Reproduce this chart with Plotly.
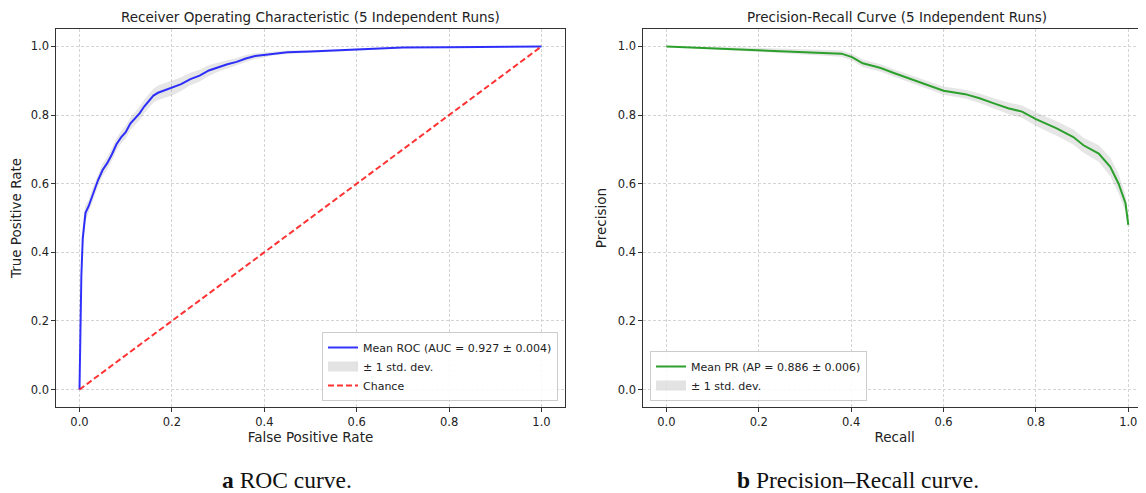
import plotly.graph_objects as go

# ---------------- data ----------------
roc_fpr = [0.0, 0.002, 0.004, 0.007, 0.010, 0.013, 0.02, 0.03, 0.04, 0.05, 0.06, 0.07, 0.08,
           0.09, 0.10, 0.11, 0.12, 0.13, 0.14, 0.15, 0.16, 0.17, 0.18, 0.20, 0.22, 0.24, 0.26,
           0.28, 0.30, 0.32, 0.34, 0.36, 0.38, 0.40, 0.42, 0.45, 0.50, 0.55, 0.60, 0.65, 0.70,
           0.80, 0.90, 1.0]
roc_tpr = [0.0, 0.20, 0.33, 0.44, 0.49, 0.515, 0.535, 0.575, 0.61, 0.64, 0.66, 0.685, 0.715,
           0.735, 0.75, 0.775, 0.79, 0.805, 0.825, 0.84, 0.857, 0.865, 0.87, 0.878, 0.89, 0.905,
           0.915, 0.93, 0.94, 0.948, 0.955, 0.965, 0.972, 0.975, 0.98, 0.983, 0.985, 0.988,
           0.992, 0.995, 0.997, 0.998, 0.999, 1.0]
roc_std = [0.0, 0.04, 0.04, 0.035, 0.03, 0.022, 0.018, 0.018, 0.018, 0.018, 0.018, 0.018, 0.018,
           0.018, 0.018, 0.018, 0.018, 0.019, 0.02, 0.02, 0.02, 0.021, 0.021, 0.021, 0.02,
           0.018, 0.017, 0.016, 0.014, 0.012, 0.011, 0.010, 0.008, 0.007, 0.006, 0.005, 0.004,
           0.004, 0.003, 0.003, 0.002, 0.001, 0.001, 0.0]

pr_recall = [0.0, 0.2, 0.379, 0.402, 0.425, 0.448, 0.464, 0.494, 0.525, 0.556, 0.60, 0.647,
             0.678, 0.709, 0.74, 0.77, 0.80, 0.845, 0.881, 0.903, 0.936, 0.961, 0.979, 0.994, 1.0]
pr_precision = [1.0, 0.99, 0.979, 0.969, 0.951, 0.943, 0.937, 0.922, 0.907, 0.893, 0.871, 0.861,
                0.849, 0.834, 0.82, 0.81, 0.788, 0.761, 0.736, 0.712, 0.688, 0.649, 0.60, 0.543, 0.48]
pr_std = [0.0, 0.006, 0.009, 0.01, 0.011, 0.011, 0.011, 0.011, 0.012, 0.012, 0.012, 0.013,
          0.014, 0.015, 0.017, 0.018, 0.02, 0.021, 0.022, 0.022, 0.024, 0.027, 0.028, 0.025, 0.012]

chance_x = [0.0, 1.0]
chance_y = [0.0, 1.0]

roc_label = "Mean ROC (AUC = 0.927 ± 0.004)"
pr_label = "Mean PR (AP = 0.886 ± 0.006)"
std_label = "± 1 std. dev."
roc_title = "Receiver Operating Characteristic (5 Independent Runs)"
pr_title = "Precision-Recall Curve (5 Independent Runs)"
ticks = [0.0, 0.2, 0.4, 0.6, 0.8, 1.0]
tick_text = ["0.0", "0.2", "0.4", "0.6", "0.8", "1.0"]

# ---------------- figure ----------------
OFF = 8                      # page body margin
W, H = 1146 - OFF, 493 - OFF
def px(v):  # reference x pixel -> paper
    return (v - OFF) / W
def py(v):  # reference y pixel -> paper
    return (H - (v - OFF)) / H

BAND = "rgba(128,128,128,0.2)"
fig = go.Figure()

def band(x, m, s, xa, ya, legend):
    up = [a + b for a, b in zip(m, s)]
    lo = [a - b for a, b in zip(m, s)]
    fig.add_trace(go.Scatter(x=x, y=up, mode="lines", line=dict(width=0, color=BAND),
                             showlegend=False, hoverinfo="skip", xaxis=xa, yaxis=ya))
    fig.add_trace(go.Scatter(x=x, y=lo, mode="lines", line=dict(width=0, color=BAND),
                             fill="tonexty", fillcolor=BAND, showlegend=False,
                             hoverinfo="skip", xaxis=xa, yaxis=ya))
    # legend patch
    fig.add_trace(go.Scatter(x=[None], y=[None], mode="lines", name=std_label,
                             line=dict(width=10, color="rgba(128,128,128,0.22)"),
                             legend=legend, legendrank=2, xaxis=xa, yaxis=ya))

band(roc_fpr, roc_tpr, roc_std, "x", "y", "legend")
fig.add_trace(go.Scatter(x=roc_fpr, y=roc_tpr, mode="lines", name=roc_label,
                         line=dict(color="rgba(0,0,255,0.8)", width=2),
                         legend="legend", legendrank=1, xaxis="x", yaxis="y"))
fig.add_trace(go.Scatter(x=chance_x, y=chance_y, mode="lines", name="Chance",
                         line=dict(color="rgba(255,0,0,0.8)", width=2, dash="6px,3px"),
                         legend="legend", legendrank=3, xaxis="x", yaxis="y"))

band(pr_recall, pr_precision, pr_std, "x2", "y2", "legend2")
fig.add_trace(go.Scatter(x=pr_recall, y=pr_precision, mode="lines", name=pr_label,
                         line=dict(color="#2ca02c", width=2),
                         legend="legend2", legendrank=1, xaxis="x2", yaxis="y2"))

FONT = "DejaVu Sans"
axis_common = dict(
    tickvals=ticks, ticktext=tick_text, ticks="outside", ticklen=4, tickwidth=1,
    tickcolor="#333", showline=True, linecolor="#333", linewidth=1, mirror=True,
    showgrid=True, gridcolor="#d4d4d4", griddash="3px,2px", gridwidth=1, zeroline=False,
    tickfont=dict(family=FONT, size=11.5, color="#222"),
)

ydom = [py(406.7), py(29.3)]
legend_common = dict(bgcolor="rgba(255,255,255,0.85)", bordercolor="#cccccc", borderwidth=1,
                     font=dict(family=FONT, size=11, color="#222"), tracegroupgap=0,
                     itemwidth=30, traceorder="normal")
TS = 13.5
fig.update_layout(
    width=W, height=H, margin=dict(l=0, r=0, t=0, b=0),
    paper_bgcolor="white", plot_bgcolor="white",
    font=dict(family=FONT, size=11, color="#222"),
    xaxis=dict(domain=[px(56.4), px(564.6)], range=[-0.05, 1.05], anchor="y",
               title=dict(text="False Positive Rate", font=dict(size=TS), standoff=5), **axis_common),
    yaxis=dict(domain=ydom, range=[-0.05, 1.05], anchor="x",
               title=dict(text="True Positive Rate", font=dict(size=TS), standoff=7), **axis_common),
    xaxis2=dict(domain=[px(643.3), 1.0], range=[-0.05, (1146 - 666.8) / 461.5], anchor="y2",
                title=dict(text="Recall", font=dict(size=TS), standoff=5), **axis_common),
    yaxis2=dict(domain=ydom, range=[-0.05, 1.05], anchor="x2",
                title=dict(text="Precision", font=dict(size=TS), standoff=7), **axis_common),
    legend=dict(x=px(558), y=py(401), xanchor="right", yanchor="bottom", **legend_common),
    legend2=dict(x=px(650), y=py(401), xanchor="left", yanchor="bottom", **legend_common),
    annotations=[
        dict(text=roc_title, x=px((56.4 + 564.6) / 2), y=py(17), xref="paper", yref="paper",
             showarrow=False, font=dict(family=FONT, size=13.5, color="#222"),
             xanchor="center", yanchor="middle"),
        dict(text=pr_title, x=px((643.3 + 1151) / 2), y=py(17), xref="paper", yref="paper",
             showarrow=False, font=dict(family=FONT, size=13.5, color="#222"),
             xanchor="center", yanchor="middle"),
        dict(text="<b>a</b> ROC curve.", x=px(287), y=py(480), xref="paper", yref="paper",
             showarrow=False, font=dict(family="Liberation Serif", size=23.5, color="#111"),
             xanchor="center", yanchor="middle"),
        dict(text="<b>b</b> Precision–Recall curve.", x=px(858), y=py(480), xref="paper",
             yref="paper", showarrow=False,
             font=dict(family="Liberation Serif", size=23.5, color="#111"),
             xanchor="center", yanchor="middle"),
    ],
)

fig.write_html("out.html")
